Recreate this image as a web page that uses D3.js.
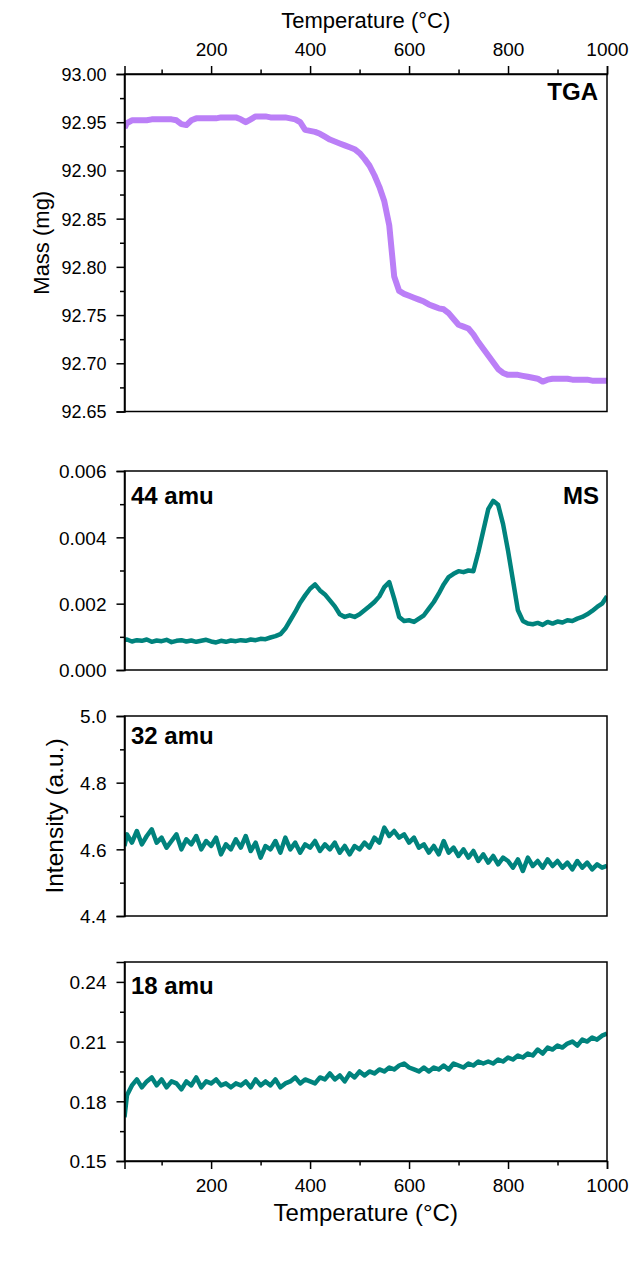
<!DOCTYPE html>
<html>
<head>
<meta charset="utf-8">
<script src="https://cdn.jsdelivr.net/npm/d3@7/dist/d3.min.js"></script>
<style>
  body { margin: 0; background: #fff; }
  svg { display: block; font-family: "Liberation Sans", Arial, sans-serif; }
  .axis path, .axis line { stroke: #000; stroke-width: 1.5; }
  .axis text { fill: #000; }
</style>
</head>
<body>
<svg id="chart" width="644" height="1288"></svg>
<script>
// temperature grid (°C), shared by all curves
var temps = [25, 30, 40, 50, 60, 70, 80, 90, 100, 110, 120, 130, 140, 150, 160, 170, 180, 190, 200,
  210, 220, 230, 240, 250, 260, 270, 280, 290, 300, 310, 320, 330, 340, 350, 360, 370, 380, 390, 400,
  410, 420, 430, 440, 450, 460, 470, 480, 490, 500, 510, 520, 530, 540, 550, 560, 570, 580, 590, 600,
  610, 620, 630, 640, 650, 660, 670, 680, 690, 700, 710, 720, 730, 740, 750, 760, 770, 780, 790, 800,
  810, 820, 830, 840, 850, 860, 870, 880, 890, 900, 910, 920, 930, 940, 950, 960, 970, 980, 990, 1000];

// TGA mass (mg)
var massTGA = [92.944, 92.949, 92.952, 92.952, 92.952, 92.952, 92.953, 92.953, 92.953, 92.953, 92.953, 92.952, 92.948, 92.947, 92.952, 92.954, 92.954, 92.954, 92.954,
  92.954, 92.955, 92.955, 92.955, 92.955, 92.953, 92.950, 92.953, 92.956, 92.956, 92.956, 92.955, 92.955, 92.955, 92.955, 92.954, 92.953, 92.950, 92.942, 92.941,
  92.940, 92.938, 92.935, 92.932, 92.930, 92.928, 92.926, 92.924, 92.922, 92.918, 92.912, 92.905, 92.895, 92.883, 92.868, 92.843, 92.790, 92.775, 92.772, 92.770,
  92.768, 92.766, 92.764, 92.761, 92.759, 92.757, 92.756, 92.752, 92.746, 92.740, 92.738, 92.736, 92.730, 92.722, 92.715, 92.708, 92.701, 92.694, 92.690, 92.688,
  92.688, 92.688, 92.687, 92.686, 92.685, 92.684, 92.681, 92.683, 92.684, 92.684, 92.684, 92.684, 92.683, 92.683, 92.683, 92.683, 92.682, 92.682, 92.682, 92.682];

// MS 44 amu
var ms44 = [0.00090, 0.00092, 0.00086, 0.00090, 0.00088, 0.00092, 0.00085, 0.00089, 0.00087, 0.00091, 0.00084, 0.00088, 0.00090, 0.00086, 0.00089, 0.00085, 0.00088, 0.00091, 0.00086,
  0.00083, 0.00088, 0.00085, 0.00089, 0.00087, 0.00090, 0.00088, 0.00092, 0.00090, 0.00094, 0.00093, 0.00098, 0.00102, 0.00108, 0.00125, 0.00150, 0.00175, 0.00203, 0.00225, 0.00245,
  0.00258, 0.00240, 0.00228, 0.00210, 0.00192, 0.00168, 0.00160, 0.00165, 0.00160, 0.00168, 0.00180, 0.00192, 0.00205, 0.00222, 0.00250, 0.00265, 0.00215, 0.00160, 0.00148, 0.00150,
  0.00145, 0.00155, 0.00165, 0.00185, 0.00205, 0.00230, 0.00258, 0.00280, 0.00290, 0.00298, 0.00295, 0.00300, 0.00298, 0.00355, 0.00420, 0.00485, 0.00510, 0.00498, 0.00440, 0.00360,
  0.00270, 0.00180, 0.00148, 0.00140, 0.00138, 0.00142, 0.00136, 0.00145, 0.00140, 0.00146, 0.00143, 0.00150, 0.00148, 0.00155, 0.00160, 0.00168, 0.00178, 0.00190, 0.00200, 0.00222];

// MS 32 amu
var ms32 = [4.610, 4.645, 4.620, 4.655, 4.615, 4.640, 4.660, 4.620, 4.635, 4.605, 4.625, 4.645, 4.600, 4.630, 4.615, 4.640, 4.600, 4.625, 4.610,
  4.635, 4.585, 4.615, 4.600, 4.630, 4.605, 4.640, 4.595, 4.620, 4.575, 4.610, 4.600, 4.625, 4.590, 4.635, 4.600, 4.620, 4.590, 4.615, 4.605,
  4.625, 4.595, 4.615, 4.600, 4.620, 4.590, 4.610, 4.585, 4.610, 4.600, 4.620, 4.605, 4.635, 4.620, 4.665, 4.640, 4.655, 4.635, 4.645, 4.620,
  4.635, 4.605, 4.615, 4.590, 4.610, 4.585, 4.625, 4.590, 4.605, 4.580, 4.600, 4.575, 4.595, 4.565, 4.585, 4.560, 4.580, 4.555, 4.575, 4.565,
  4.545, 4.570, 4.535, 4.575, 4.550, 4.565, 4.545, 4.570, 4.550, 4.565, 4.545, 4.560, 4.540, 4.565, 4.545, 4.560, 4.540, 4.555, 4.545, 4.550];

// MS 18 amu
var ms18 = [0.172, 0.183, 0.188, 0.191, 0.187, 0.190, 0.192, 0.188, 0.191, 0.187, 0.190, 0.189, 0.186, 0.190, 0.188, 0.192, 0.187, 0.190, 0.189,
  0.191, 0.188, 0.189, 0.187, 0.189, 0.188, 0.190, 0.187, 0.191, 0.188, 0.190, 0.188, 0.191, 0.187, 0.189, 0.190, 0.192, 0.189, 0.191, 0.190,
  0.189, 0.192, 0.191, 0.194, 0.191, 0.193, 0.190, 0.194, 0.192, 0.195, 0.193, 0.195, 0.194, 0.196, 0.195, 0.197, 0.196, 0.198, 0.199, 0.197,
  0.196, 0.195, 0.197, 0.195, 0.197, 0.196, 0.198, 0.196, 0.199, 0.198, 0.197, 0.199, 0.198, 0.200, 0.199, 0.200, 0.199, 0.201, 0.200, 0.202,
  0.201, 0.203, 0.202, 0.204, 0.203, 0.206, 0.204, 0.207, 0.206, 0.208, 0.207, 0.209, 0.210, 0.208, 0.211, 0.210, 0.212, 0.211, 0.213, 0.214];

// tick values
var xMajor = [200, 400, 600, 800, 1000];
var xMinor = [100, 300, 500, 700, 900];
var tgaMajor = [92.65, 92.70, 92.75, 92.80, 92.85, 92.90, 92.95, 93.00];
var tgaMinor = [92.675, 92.725, 92.775, 92.825, 92.875, 92.925, 92.975];
var m44Major = [0, 0.002, 0.004, 0.006];
var m44Minor = [0.001, 0.003, 0.005];
var m32Major = [4.4, 4.6, 4.8, 5.0];
var m32Minor = [4.5, 4.7, 4.9];
var m18Major = [0.15, 0.18, 0.21, 0.24];
var m18Minor = [0.165, 0.195, 0.225];

/**
 * Layout
 */
var left = 124.5;
var right = 607;
var purple = "#bb7ff7";
var teal = "#00837d";

var svg = d3.select("#chart");

var xScale = d3.scaleLinear().domain([25, 1000]).range([left, right]);

var panels = [
  { id: "tga", values: massTGA, domain: [92.65, 93.00], top: 74, bottom: 411.5, major: tgaMajor, minor: tgaMinor, fmt: ".2f", color: purple, width: 6 },
  { id: "m44", values: ms44, domain: [0, 0.006], top: 471, bottom: 670, major: m44Major, minor: m44Minor, fmt: ".3f", color: teal, width: 4.5 },
  { id: "m32", values: ms32, domain: [4.4, 5.0], top: 716, bottom: 916, major: m32Major, minor: m32Minor, fmt: ".1f", color: teal, width: 4.5 },
  { id: "m18", values: ms18, domain: [0.15, 0.25], top: 962, bottom: 1161, major: m18Major, minor: m18Minor, fmt: ".2f", color: teal, width: 4.5 }
];

// Draw major + minor ticks of one axis
function drawAxis(g, axisFn, scale, major, minor, fmt, size) {
  g.append("g")
    .attr("class", "axis")
    .call(axisFn(scale).tickValues(major).tickFormat(fmt).tickSizeOuter(0).tickSize(8).tickPadding(10))
    .selectAll("text").style("font-size", size + "px");

  var mg = g.append("g")
    .attr("class", "axis")
    .call(axisFn(scale).tickValues(minor).tickFormat("").tickSizeOuter(0).tickSize(4.5));
  mg.select(".domain").remove();
}

panels.forEach(function(p) {
  var yScale = d3.scaleLinear().domain(p.domain).range([p.bottom, p.top]);

  var g = svg.append("g").attr("class", "panel " + p.id);

  g.append("clipPath")
    .attr("id", "clip-" + p.id)
    .append("rect")
    .attr("x", left).attr("y", p.top)
    .attr("width", right - left).attr("height", p.bottom - p.top);

  // Curve
  var line = d3.line()
    .x(function(d, i) { return xScale(temps[i]); })
    .y(function(d) { return yScale(d); });

  g.append("path")
    .datum(p.values)
    .attr("clip-path", "url(#clip-" + p.id + ")")
    .attr("fill", "none")
    .attr("stroke", p.color)
    .attr("stroke-width", p.width)
    .attr("stroke-linejoin", "round")
    .attr("d", line);

  // Frame
  g.append("rect")
    .attr("x", left).attr("y", p.top)
    .attr("width", right - left).attr("height", p.bottom - p.top)
    .attr("fill", "none")
    .attr("stroke", "#000")
    .attr("stroke-width", 1.5);

  // Y axis
  var ya = g.append("g").attr("transform", "translate(" + left + ",0)");
  drawAxis(ya, d3.axisLeft, yScale, p.major, p.minor, d3.format(p.fmt), p.id === "tga" ? 18 : 19);
  ya.selectAll("text").attr("dy", "0.36em");
});

// Top temperature axis (on TGA)
var topAxis = svg.append("g").attr("transform", "translate(0," + panels[0].top + ")");
drawAxis(topAxis, d3.axisTop, xScale, xMajor, xMinor, d3.format("d"), 19);

// Bottom temperature axis
var bottomAxis = svg.append("g").attr("transform", "translate(0," + panels[3].bottom + ")");
drawAxis(bottomAxis, d3.axisBottom, xScale, xMajor, xMinor, d3.format("d"), 19);

// Axis titles
var midX = (left + right) / 2;

svg.append("text")
  .attr("x", midX).attr("y", 28)
  .attr("text-anchor", "middle")
  .style("font-size", "22px")
  .text("Temperature (°C)");

svg.append("text")
  .attr("x", midX).attr("y", 1221)
  .attr("text-anchor", "middle")
  .style("font-size", "24px")
  .text("Temperature (°C)");

svg.append("text")
  .attr("transform", "translate(49," + (panels[0].top + panels[0].bottom) / 2 + ") rotate(-90)")
  .attr("text-anchor", "middle")
  .style("font-size", "22px")
  .text("Mass (mg)");

svg.append("text")
  .attr("transform", "translate(62.5," + (panels[2].top + panels[2].bottom) / 2 + ") rotate(-90)")
  .attr("text-anchor", "middle")
  .style("font-size", "24.5px")
  .text("Intensity (a.u.)");

// Panel labels
var labels = [
  { text: "TGA", x: right - 9, y: 100, anchor: "end" },
  { text: "44 amu", x: left + 6.5, y: 504, anchor: "start" },
  { text: "MS", x: right - 8, y: 504, anchor: "end" },
  { text: "32 amu", x: left + 6.5, y: 744, anchor: "start" },
  { text: "18 amu", x: left + 6.5, y: 994, anchor: "start" }
];

svg.selectAll(".panel-label")
  .data(labels)
  .enter()
  .append("text")
  .attr("class", "panel-label")
  .attr("x", function(d) { return d.x; })
  .attr("y", function(d) { return d.y; })
  .attr("text-anchor", function(d) { return d.anchor; })
  .style("font-size", "24px")
  .style("font-weight", "bold")
  .text(function(d) { return d.text; });
</script>
</body>
</html>
